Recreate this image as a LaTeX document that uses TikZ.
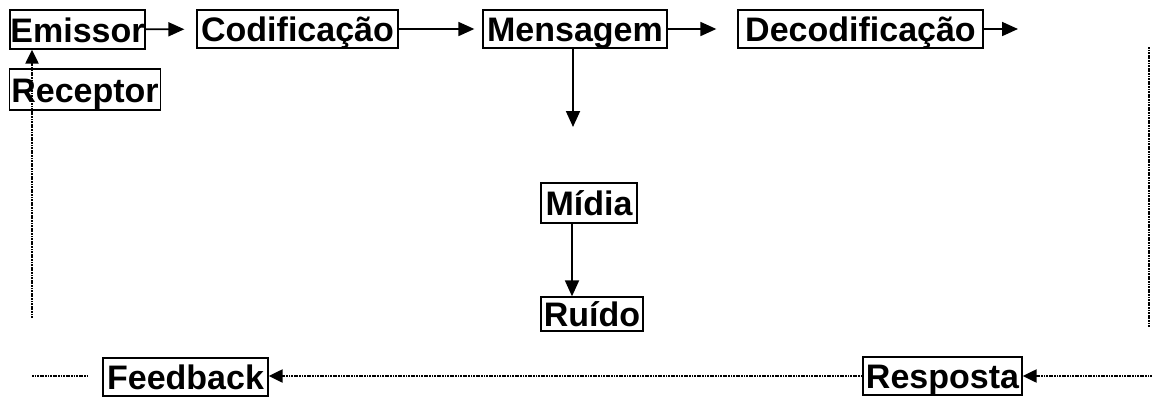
\documentclass[tikz,border=0pt]{standalone}
\usepackage{fontspec}
\setmainfont{Liberation Sans}
\usetikzlibrary{arrows.meta}
\begin{document}
\begin{tikzpicture}[x=1pt,y=-1pt,
  box/.style={draw,line width=1.3pt,inner sep=0pt,text height=25pt,text depth=0pt,
    font=\fontsize{34}{38}\selectfont\bfseries},
  arr/.style={line width=1.8pt,-{Triangle[length=16pt,width=14pt]}},
  dot/.style={line width=2.2pt,dash pattern=on 1.8pt off 0.8pt},
  dotarr/.style={dot,-{Triangle[length=14pt,width=13pt]}}]
\useasboundingbox (0,0) rectangle (1152,397);
\node[box,minimum width=135pt,minimum height=39pt] (emi) at (77.5,29.5) {Emissor};
\node[box,minimum width=151pt,minimum height=41pt] (rec) at (85,89.5) {Receptor};
\node[box,minimum width=201pt,minimum height=38pt] (cod) at (297.5,29) {Codificação};
\node[box,minimum width=184pt,minimum height=38pt] (men) at (575,29) {Mensagem};
\node[box,minimum width=245pt,minimum height=38pt] (dec) at (860.5,29) {Decodificação};
\node[box,minimum width=96pt,minimum height=40pt] (mid) at (589,203) {Mídia};
\node[box,minimum width=102pt,minimum height=34pt] (rui) at (592,314) {Ruído};
\node[box,minimum width=165pt,minimum height=38pt] (fee) at (185.5,377) {Feedback};
\node[box,minimum width=159pt,minimum height=38pt] (res) at (942.5,376) {Resposta};
\coordinate (d1) at (1018,29);
\coordinate (m1) at (573,127);
\coordinate (v1) at (32,318);
\coordinate (r1) at (1149,47);
\coordinate (r2) at (1149,327);
\coordinate (b1) at (32,376);
\coordinate (b2) at (88,376);
\coordinate (b3) at (1152,376);
\draw[arr,shorten >=12pt] (emi) -- (cod);
\draw[arr,shorten >=8pt] (cod) -- (men);
\draw[arr,shorten >=21pt] (men) -- (dec);
\draw[arr] (dec) -- (d1);
\draw[arr] (men.south -| m1) -- (m1);
\draw[arr] (mid.south -| 572,0) -- (rui.north -| 572,0);
\draw[dotarr] (v1) -- (emi.south -| v1);
\draw[dot] (r1) -- (r2);
\draw[dot] (b1) -- (b2);
\draw[dotarr] (res.west |- b1) -- (fee.east |- b1);
\draw[dotarr] (b3) -- (res.east |- b1);
\end{tikzpicture}
\end{document}
